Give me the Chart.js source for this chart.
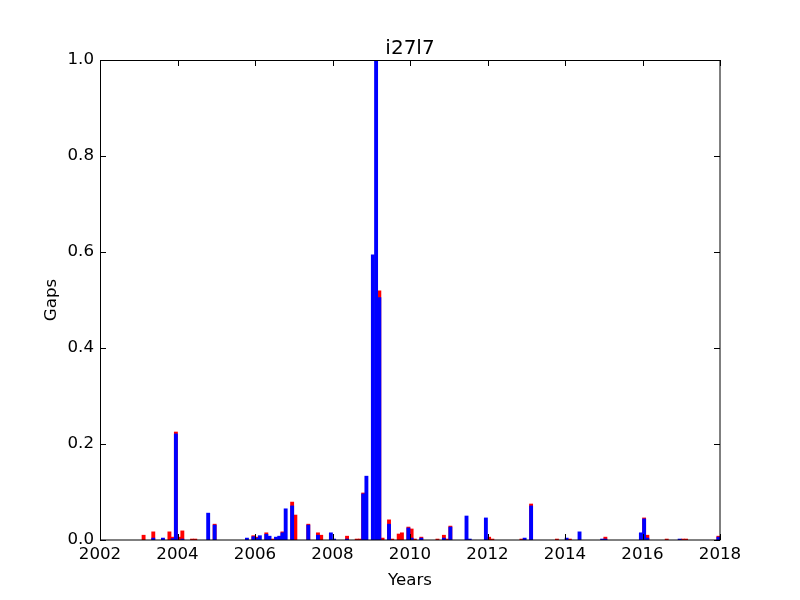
<!DOCTYPE html>
<html>
<head>
<meta charset="utf-8">
<script src="https://cdn.jsdelivr.net/npm/chart.js@4/dist/chart.umd.min.js"></script>
<style>html,body{margin:0;padding:0;background:#fff;}</style>
</head>
<body>
<canvas id="c" width="800" height="600"></canvas>
<script>
// Month of each bar (bar's left edge is at the start of the month)
const months = [
  "2003-02","2003-05","2003-08","2003-10","2003-11","2003-12","2004-01","2004-02","2004-05","2004-06",
  "2004-10","2004-12","2005-10","2005-12","2006-01","2006-02","2006-04","2006-05","2006-06","2006-07",
  "2006-08","2006-09","2006-10","2006-12","2007-01","2007-05","2007-08","2007-09","2007-12","2008-01",
  "2008-05","2008-08","2008-09","2008-10","2008-11","2009-01","2009-02","2009-03","2009-04","2009-06",
  "2009-07","2009-09","2009-10","2009-12","2010-01","2010-02","2010-04","2010-09","2010-11","2010-12",
  "2011-01","2011-06","2011-07","2011-12","2012-01","2012-02","2012-11","2012-12","2013-02","2013-10",
  "2014-01","2014-02","2014-05","2014-12","2015-01","2015-12","2016-01","2016-02","2016-08","2016-12",
  "2017-01","2017-02","2017-12"
];
const blueGaps = [
  null,0.004,0.004,null,0.003,0.221,null,0.002,null,null,
  0.056,0.031,0.004,0.007,0.004,0.009,0.012,0.008,null,0.006,
  0.008,0.015,0.065,0.071,null,0.031,0.010,null,0.015,0.002,
  0.002,null,null,0.096,0.133,0.594,1.0,0.505,null,0.033,
  null,null,null,0.025,0.004,null,0.004,null,0.004,null,
  0.027,0.050,0.002,0.046,null,null,null,0.004,0.071,null,
  0.004,null,0.017,0.002,0.002,0.015,0.044,0.004,null,0.002,
  null,null,0.006
];
const redGaps = [
  0.010,0.017,null,0.017,0.006,0.225,0.006,0.019,0.002,0.002,
  null,0.033,null,0.009,0.006,null,0.015,null,0.002,null,
  null,0.017,null,0.079,0.052,0.033,0.015,0.010,null,null,
  0.008,0.002,0.002,0.098,null,null,null,0.519,0.004,0.042,
  0.002,0.0125,0.015,0.027,0.023,0.002,0.006,0.002,0.010,0.002,
  0.029,null,null,null,0.006,0.002,0.002,null,0.075,0.002,
  null,0.002,null,null,0.006,null,0.046,0.010,0.002,null,
  0.002,0.002,0.008
];
const xTicks = [2002, 2004, 2006, 2008, 2010, 2012, 2014, 2016, 2018];
const yTicks = [0, 0.2, 0.4, 0.6, 0.8, 1.0];
const titleText = 'i27l7';

function monthCenter(s) {
  const [y, m] = s.split("-").map(Number);
  return y + (m - 1) / 12 + 1 / 24;
}
function toPoints(vals) {
  const pts = [];
  months.forEach((mo, i) => { if (vals[i] !== null) pts.push({x: monthCenter(mo), y: vals[i]}); });
  return pts;
}

const FONT = "'DejaVu Sans', sans-serif";

const framePlugin = {
  id: 'frame',
  afterDatasetsDraw(chart) {
    const {ctx, chartArea: a, scales} = chart;
    ctx.save();
    ctx.strokeStyle = '#000';
    ctx.lineWidth = 1;
    const L = 6;
    ctx.beginPath();
    xTicks.forEach(v => {
      const px = Math.round(scales.x.getPixelForValue(v)) + 0.5;
      ctx.moveTo(px, a.bottom); ctx.lineTo(px, a.bottom - L);
      ctx.moveTo(px, a.top); ctx.lineTo(px, a.top + L);
    });
    yTicks.forEach(v => {
      const py = Math.round(scales.y.getPixelForValue(v)) + 0.5;
      ctx.moveTo(a.left, py); ctx.lineTo(a.left + L, py);
      ctx.moveTo(a.right, py); ctx.lineTo(a.right - L, py);
    });
    ctx.stroke();
    ctx.strokeRect(Math.round(a.left) + 0.5, Math.round(a.top) + 0.5,
                   Math.round(a.right - a.left) - 1 + 0.5, Math.round(a.bottom - a.top) - 0.5);
    // title centred over the plot area
    ctx.fillStyle = '#000';
    ctx.font = "20px " + FONT;
    ctx.textAlign = 'center';
    ctx.textBaseline = 'alphabetic';
    ctx.fillText(titleText, (a.left + a.right) / 2, a.top - 6);
    ctx.restore();
  }
};

new Chart(document.getElementById('c'), {
  type: 'bar',
  data: {
    datasets: [
      {label: 'blue', data: toPoints(blueGaps), backgroundColor: '#0000ff', grouped: false,
       barPercentage: 1, categoryPercentage: 1, borderWidth: 0},
      {label: 'red', data: toPoints(redGaps), backgroundColor: '#ff0000', grouped: false,
       barPercentage: 1, categoryPercentage: 1, borderWidth: 0}
    ]
  },
  options: {
    responsive: false,
    animation: false,
    devicePixelRatio: 1,
    layout: {padding: {left: 0, right: 80, top: 60, bottom: 0}},
    plugins: {
      legend: {display: false},
      tooltip: {enabled: false},
      title: {display: false}
    },
    scales: {
      x: {
        type: 'linear', min: 2002, max: 2018, offset: false,
        grid: {display: false, offset: false, drawTicks: false},
        border: {display: false},
        ticks: {stepSize: 2, color: '#000', padding: 5, maxRotation: 0,
                font: {family: FONT, size: 16.67},
                callback: v => String(v)},
        title: {display: true, text: 'Years', color: '#000',
                font: {family: FONT, size: 16.67}, padding: {top: 0, bottom: 9}},
        afterFit(s) { s.height = 60; }
      },
      y: {
        min: 0, max: 1,
        grid: {display: false, drawTicks: false},
        border: {display: false},
        ticks: {stepSize: 0.2, color: '#000', padding: 6,
                font: {family: FONT, size: 16.67},
                callback: v => Number(v).toFixed(1)},
        title: {display: true, text: 'Gaps', color: '#000',
                font: {family: FONT, size: 16.67}, padding: {top: 42, bottom: 0}},
        afterFit(s) { s.width = 100; }
      }
    }
  },
  plugins: [framePlugin]
});
</script>
</body>
</html>
